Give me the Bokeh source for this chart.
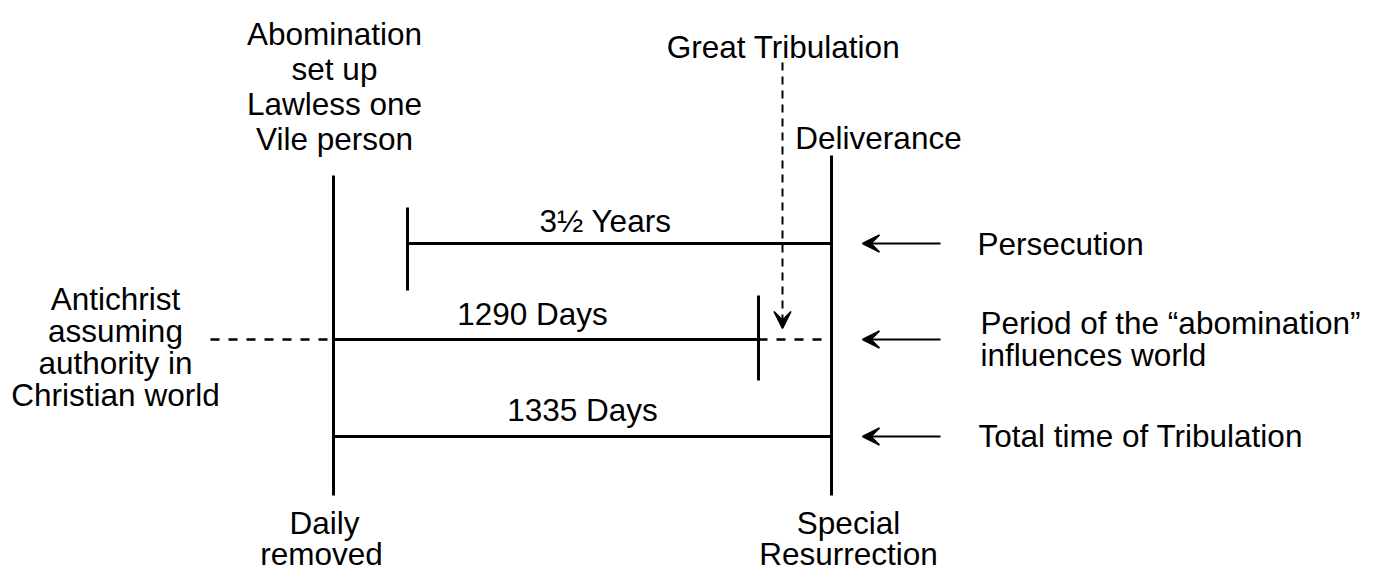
from bokeh.plotting import figure
from bokeh.models import Range1d, Arrow, VeeHead, ColumnDataSource
from bokeh.core.properties import value
from bokeh.embed import file_html
from bokeh.resources import INLINE

FONT = "Liberation Sans"
FS = "31.5px"

# ---- data (diagram positions in schematic units) ----
marker_names = ["Daily removed", "Special Resurrection", "3½ Years start", "1290 Days end"]
marker_x = [333, 831, 407, 758]
marker_top = [175, 155, 207, 295]
marker_bottom = [495, 495, 290, 380]

period_names = ["3½ Years", "1290 Days", "1335 Days"]
period_start = [407, 333, 333]
period_end = [831, 758, 831]
period_y = [243, 339, 436]
period_label_x = [605, 532, 582]
period_label_y = [220, 313, 409]

dash_x0 = [210, 758]
dash_x1 = [333, 831]
dash_y = [339, 339]

note_arrow_y = [243, 339, 436]
note_arrow_from = 940
note_arrow_to = 862

trib_arrow_x = 782
trib_arrow_from = 62
trib_arrow_to = 328

center_text = ["Abomination", "set up", "Lawless one", "Vile person",
               "Great Tribulation", "Deliverance",
               "Antichrist", "assuming", "authority in", "Christian world",
               "Daily", "removed", "Special", "Resurrection"]
center_x = [334, 334, 334, 334,
            783, 878,
            115, 115, 115, 115,
            324, 321, 848, 848]
center_y = [33, 68, 103, 138,
            46, 137,
            298, 330, 362, 394,
            522, 553, 522, 553]

left_text = ["Persecution", "Period of the \u201cabomination\u201d", "influences world",
             "Total time of Tribulation"]
left_x = [977, 980, 980, 978]
left_y = [243, 322, 354, 435]

p = figure(width=1379, height=571, output_backend="svg", toolbar_location=None,
           x_range=Range1d(0, 1379), y_range=Range1d(571, 0),
           x_axis_type=None, y_axis_type=None, min_border=0)
p.grid.visible = False
p.outline_line_color = None
p.background_fill_color = "white"
p.border_fill_color = "white"

p.segment(x0=marker_x, y0=marker_top, x1=marker_x, y1=marker_bottom,
          line_color="black", line_width=3)
p.segment(x0=period_start, y0=period_y, x1=period_end, y1=period_y,
          line_color="black", line_width=3)
p.segment(x0=dash_x0, y0=dash_y, x1=dash_x1, y1=dash_y,
          line_color="black", line_width=2.5, line_dash="9 9")

src = ColumnDataSource(dict(xs=[note_arrow_from] * len(note_arrow_y),
                            xe=[note_arrow_to] * len(note_arrow_y),
                            y=note_arrow_y))
p.add_layout(Arrow(x_start="xs", y_start="y", x_end="xe", y_end="y", source=src,
                   line_color="black", line_width=2,
                   end=VeeHead(size=17, fill_color="black", fill_alpha=1.0,
                               line_color="black", line_width=1.5)))

p.add_layout(Arrow(x_start=trib_arrow_x, y_start=trib_arrow_from,
                   x_end=trib_arrow_x, y_end=trib_arrow_to,
                   line_color="black", line_width=2, line_dash="8 6",
                   end=VeeHead(size=17, fill_color="black", fill_alpha=1.0,
                               line_color="black", line_width=1.5, line_dash="solid")))

p.text(x=period_label_x, y=period_label_y, text=period_names,
       text_font=value(FONT), text_font_size=FS, text_align="center",
       text_baseline="middle", text_color="black")
p.text(x=center_x, y=center_y, text=center_text,
       text_font=value(FONT), text_font_size=FS, text_align="center",
       text_baseline="middle", text_color="black")
p.text(x=left_x, y=left_y, text=left_text,
       text_font=value(FONT), text_font_size=FS, text_align="left",
       text_baseline="middle", text_color="black")

open("out.html", "w").write(file_html(p, INLINE))
